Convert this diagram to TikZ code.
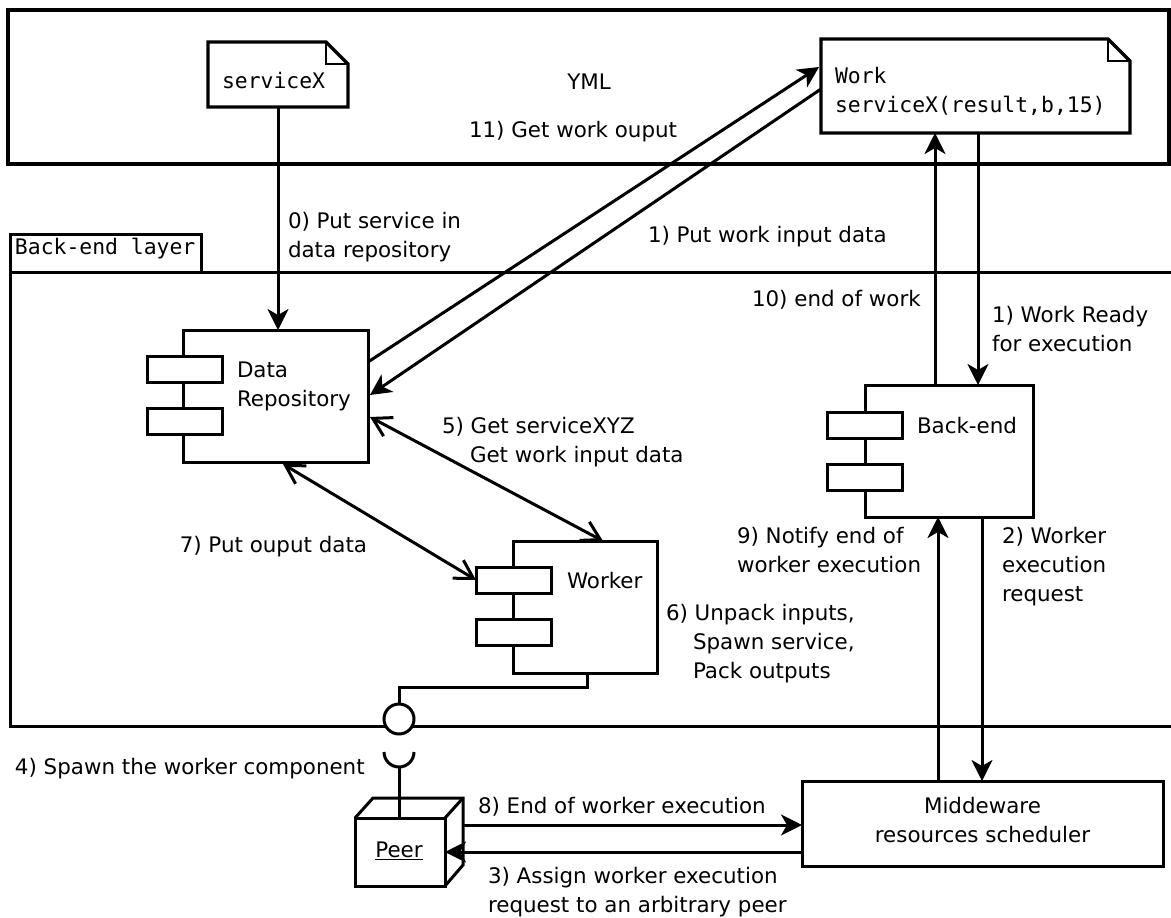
\documentclass[tikz,border=0pt]{standalone}
\usepackage{fontspec}
\setmainfont{DejaVu Sans}
\newfontfamily\monofont{DejaVu Sans Mono}
\usetikzlibrary{arrows.meta,calc}

\begin{document}
\begin{tikzpicture}[x=1pt,y=-1pt,
  every node/.style={inner sep=0pt, outer sep=0pt},
  lbl/.style={font=\fontsize{21.4pt}{29pt}\selectfont, align=left, anchor=base west},
  mono/.style={font=\monofont\fontsize{21.4pt}{29pt}\selectfont, align=left, anchor=base west},
  frame/.style={draw, line width=3.4pt},
  comp/.style={draw, line width=3pt, fill=white, anchor=north west},
  ctab/.style={draw, line width=3pt, fill=white, minimum width=75pt, minimum height=26pt, anchor=north west},
  conn/.style={line width=3pt},
  fwd/.style={conn, -{Stealth[length=21pt,width=21pt,inset=6pt]}},
  both/.style={conn, {Straight Barb[length=18pt,width=21pt]}-{Straight Barb[length=18pt,width=21pt]}},
]
\useasboundingbox (0,0) rectangle (1171,918);

% ---- YML layer ----
\node[frame, anchor=north west, minimum width=1161pt, minimum height=154pt] (yml) at (8,10) {};
\node[lbl, anchor=base] (ymllbl) at (589,89) {YML};

% service note
\node[anchor=north west, minimum width=140pt, minimum height=65pt] (svc) at (208,42) {};
\draw[frame, line join=miter] (svc.north west) -- ($(svc.north east)+(-22,0)$) -- ($(svc.north east)+(0,22)$)
  -- (svc.south east) -- (svc.south west) -- cycle;
\draw[line width=2.4pt] ($(svc.north east)+(-22,0)$) |- ($(svc.north east)+(0,22)$);
\node[mono] (svclbl) at (222,88) {serviceX};

% work note
\node[anchor=north west, minimum width=309pt, minimum height=94pt] (work) at (821,39) {};
\draw[frame, line join=miter] (work.north west) -- ($(work.north east)+(-22,0)$) -- ($(work.north east)+(0,22)$)
  -- (work.south east) -- (work.south west) -- cycle;
\draw[line width=2.4pt] ($(work.north east)+(-22,0)$) |- ($(work.north east)+(0,22)$);
\node[mono] (worklbl) at (835,112) {Work\\serviceX(result,b,15)};

% ---- Back-end layer ----
\node[anchor=north west, minimum width=1170pt, minimum height=454pt] (layer) at (10,272) {};
\draw[line width=3pt] ($(layer.north east)+(5,0)$) -- (layer.north west) -- (layer.south west) -- ($(layer.south east)+(5,0)$);
\node[draw, line width=3pt, anchor=north west, minimum width=191pt, minimum height=38pt] (tab) at (10,234) {};
\node[mono] (tablbl) at (15,254) {Back-end layer};

% data repository component
\node[comp, minimum width=185pt, minimum height=132pt] (dr) at (183,330) {};
\node[ctab] (drt1) at ($(dr.north west)+(-36,26)$) {};
\node[ctab] (drt2) at ($(dr.north west)+(-36,78)$) {};
\node[lbl] (drlbl) at (237,406) {Data\\Repository};

% back-end component
\node[comp, minimum width=168pt, minimum height=132pt] (be) at (865,385) {};
\node[ctab] (bet1) at ($(be.north west)+(-38,27)$) {};
\node[ctab] (bet2) at ($(be.north west)+(-38,79)$) {};
\node[lbl] (belbl) at (917,433) {Back-end};

% worker component
\node[comp, minimum width=144pt, minimum height=132pt] (wk) at (513,541) {};
\node[ctab] (wkt1) at ($(wk.north west)+(-37,26)$) {};
\node[ctab] (wkt2) at ($(wk.north west)+(-37,78)$) {};
\node[lbl] (wklbl) at (567,588) {Worker};

% middleware
\node[comp, minimum width=361pt, minimum height=85pt] (mw) at (802,781) {};
\node[lbl, anchor=base, align=center] (mwlbl) at (982.5,842) {Middeware\\resources scheduler};

% peer node (cube)
\node[draw, line width=3pt, anchor=north west, minimum width=90pt, minimum height=68pt] (peer) at (355,818) {};
\draw[line width=3pt, line join=miter] (peer.north west) -- ($(peer.north west)+(18,-20)$) -- ($(peer.north east)+(18,-20)$)
  -- ($(peer.south east)+(18,-21)$) -- (peer.south east);
\draw[line width=3pt] (peer.north east) -- ($(peer.north east)+(18,-20)$);
\node[lbl, anchor=base] (peerlbl) at (399,857) {\underline{Peer}};

% provided / required interface
\draw[conn] ($(wk.south west)+(74,0)$) |- (399,687) -- (399,704);
\node[draw, circle, line width=3pt, fill=white, minimum size=30pt] (iface) at (399,719) {};
\coordinate (sock) at (399,752);
\draw[conn] ([xshift=-15pt]sock) arc[start angle=180, end angle=360, radius=15pt];
\draw[conn] ($(sock)+(0,15)$) -- (sock |- peer.north);

% ---- connectors ----
\coordinate (be10) at ($(be.north west)+(70,0)$);
\coordinate (be1) at ($(be.north west)+(113,0)$);
\coordinate (be9) at ($(be.south west)+(73,0)$);
\coordinate (be2) at ($(be.south west)+(117,0)$);

\draw[fwd] (svc.south) -- (svc.south |- dr.north);
\draw[fwd] ($(dr.north east)+(0,32)$) -- ($(work.north west)+(-2,28)$);
\draw[fwd] ($(work.north west)+(0,50)$) -- ($(dr.north east)+(2,65)$);
\draw[fwd] (be10) -- (be10 |- work.south);
\draw[fwd] (be1 |- work.south) -- (be1);
\draw[fwd] (be9 |- mw.north) -- (be9);
\draw[fwd] (be2) -- (be2 |- mw.north);
\draw[both] ($(dr.north east)+(2,87)$) -- ($(wk.north west)+(90,0)$);
\draw[both] ($(dr.south west)+(100,2)$) -- (wkt1.west);
\draw[fwd] ($(peer.north east)+(17,7)$) -- ($(mw.north west)+(0,44)$);
\draw[fwd] ($(mw.north west)+(0,71)$) -- ($(peer.north east)+(0,34)$);

% ---- labels ----
\node[lbl] (l11) at (469,137) {11) Get work ouput};
\node[lbl] (l0) at (288,257) {0) Put service in\\data repository};
\node[lbl] (l1a) at (648,242) {1) Put work input data};
\node[lbl] (l10) at (752,306) {10) end of work};
\node[lbl] (l1b) at (992,351) {1) Work Ready\\for execution};
\node[lbl] (l5) at (442,462) {5) Get serviceXYZ\\\hspace*{28pt}Get work input data};
\node[lbl, anchor=base east] (l7) at (367,552) {7) Put ouput data};
\node[lbl] (l6) at (666,678) {6) Unpack inputs,\\\hspace*{27pt}Spawn service,\\\hspace*{27pt}Pack outputs};
\node[lbl] (l9) at (737,572) {9) Notify end of\\worker execution};
\node[lbl] (l2) at (1002,601) {2) Worker\\execution\\request};
\node[lbl] (l4) at (15,774) {4) Spawn the worker component};
\node[lbl] (l8) at (478,813) {8) End of worker execution};
\node[lbl] (l3) at (488,912) {3) Assign worker execution\\request to an arbitrary peer};
\end{tikzpicture}
\end{document}
